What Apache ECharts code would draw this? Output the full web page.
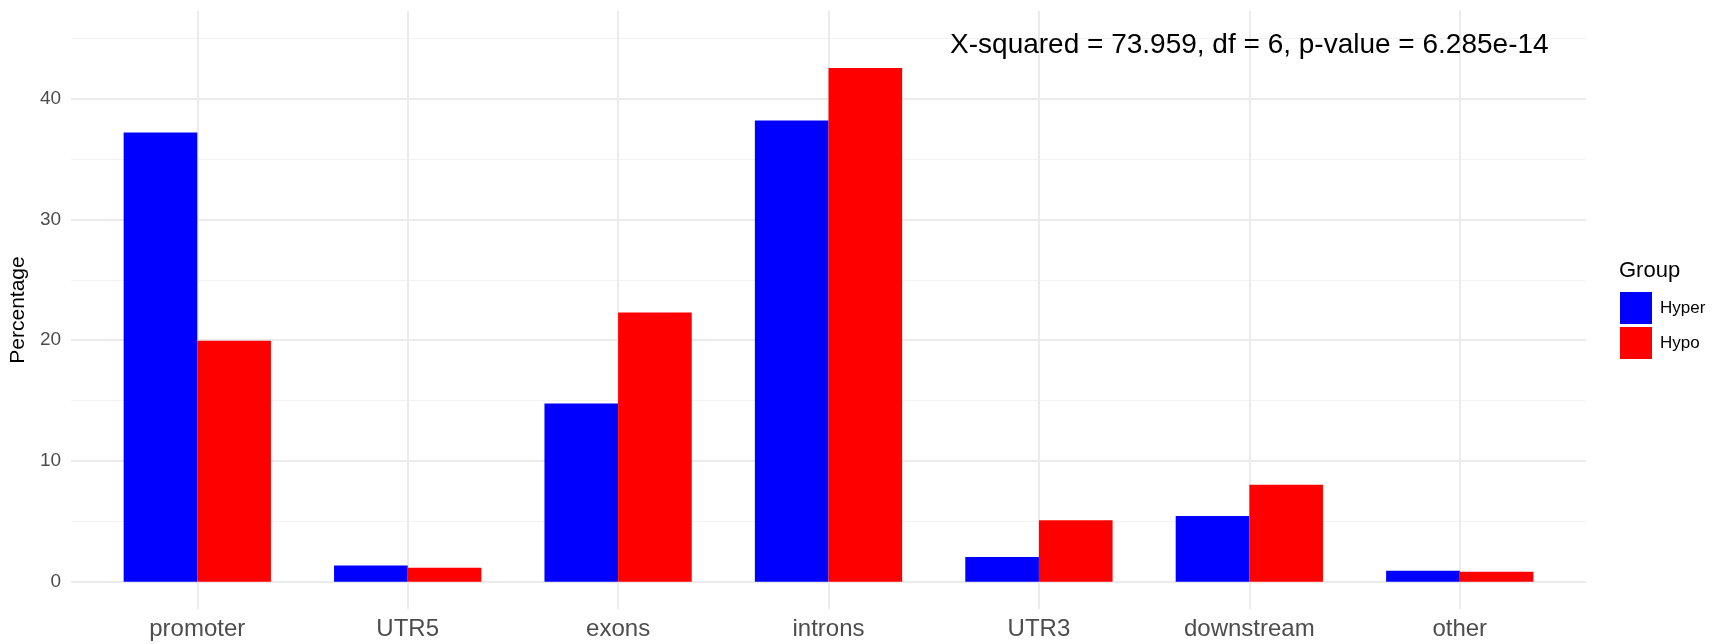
<!DOCTYPE html>
<html>
<head>
<meta charset="utf-8">
<title>Genomic feature distribution</title>
<script src="https://cdn.jsdelivr.net/npm/echarts@6/dist/echarts.min.js"></script>
<style>
  html, body { margin: 0; padding: 0; background: #ffffff; }
  #chart { width: 1716px; height: 644px; }
</style>
</head>
<body>
<div id="chart"></div>
<script>
// Genomic features (x categories)
const categories = ['promoter', 'UTR5', 'exons', 'introns', 'UTR3', 'downstream', 'other'];
// Percentage of regions per feature for each group
const hyperValues = [37.2, 1.36, 14.76, 38.19, 2.06, 5.44, 0.91];
const hypoValues = [19.95, 1.17, 22.29, 42.53, 5.10, 8.03, 0.83];
// Group names and fill colours
const groupNames = ['Hyper', 'Hypo'];
const groupColors = ['#0000ff', '#ff0000'];
// Y axis labelled ticks and minor gridlines
const yTicks = [0, 10, 20, 30, 40];
const yMinor = [5, 15, 25, 35, 45];
// Chi-squared test result shown in the panel
const testText = 'X-squared = 73.959, df = 6, p-value = 6.285e-14';
const testPos = [6, 45];

const FONT = '"Liberation Sans", Arial, Helvetica, sans-serif';
const xPositions = categories.map((c, i) => i + 1);

// Panel gridlines: major at labelled ticks and category centres, minor halfway
const major = { type: 'solid', width: 2, color: '#ebebeb' };
const minor = { type: 'solid', width: 1, color: '#f2f2f2' };
const gridLines = [];
yTicks.forEach(v => gridLines.push({ yAxis: v, lineStyle: major }));
yMinor.forEach(v => gridLines.push({ yAxis: v, lineStyle: minor }));
xPositions.forEach(v => gridLines.push({ xAxis: v, lineStyle: major }));

const chart = echarts.init(document.getElementById('chart'), null, { renderer: 'canvas' });

chart.setOption({
  animation: false,
  backgroundColor: '#ffffff',
  textStyle: { fontFamily: FONT },
  title: {
    text: 'Group',
    left: 1619,
    top: 260,
    padding: 0,
    textStyle: { fontFamily: FONT, fontSize: 22, fontWeight: 'normal', color: '#000000' }
  },
  legend: {
    data: groupNames,
    orient: 'vertical',
    left: 1620,
    top: 292,
    padding: 0,
    itemWidth: 32,
    itemHeight: 32,
    itemGap: 3,
    icon: 'rect',
    selectedMode: false,
    textStyle: { fontFamily: FONT, fontSize: 17, color: '#000000', padding: [0, 0, 0, 3] }
  },
  grid: {
    left: 70,
    right: 130,
    top: 11,
    bottom: 35,
    containLabel: false
  },
  xAxis: {
    type: 'value',
    min: 0.4,
    max: 7.6,
    splitLine: { show: false },
    axisLine: { show: false },
    axisTick: { show: false },
    axisLabel: {
      customValues: xPositions,
      formatter: v => categories[Math.round(v) - 1] || '',
      fontFamily: FONT,
      fontSize: 24,
      color: '#4d4d4d',
      margin: 8
    }
  },
  yAxis: {
    type: 'value',
    min: -2.25,
    max: 47.25,
    name: 'Percentage',
    nameLocation: 'middle',
    nameRotate: 90,
    nameGap: 32,
    nameTextStyle: { fontFamily: FONT, fontSize: 21, color: '#000000' },
    splitLine: { show: false },
    axisLine: { show: false },
    axisTick: { show: false },
    axisLabel: {
      customValues: yTicks,
      fontFamily: FONT,
      fontSize: 19,
      color: '#4d4d4d',
      margin: 10
    }
  },
  series: [
    {
      name: 'grid',
      type: 'line',
      data: [],
      z: 1,
      silent: true,
      markLine: {
        silent: true,
        z: 0,
        symbol: ['none', 'none'],
        label: { show: false },
        animation: false,
        data: gridLines
      },
      markPoint: {
        silent: true,
        z: 5,
        symbol: 'rect',
        symbolSize: 0,
        label: {
          show: true,
          position: 'inside',
          offset: [0, 7],
          formatter: testText,
          fontFamily: FONT,
          fontSize: 28,
          color: '#000000'
        },
        data: [{ coord: testPos }]
      }
    },
    {
      name: groupNames[0],
      type: 'bar',
      z: 2,
      barWidth: '35%',
      barGap: '0%',
      itemStyle: { color: groupColors[0] },
      data: hyperValues.map((v, i) => [xPositions[i], v])
    },
    {
      name: groupNames[1],
      type: 'bar',
      z: 2,
      barWidth: '35%',
      barGap: '0%',
      itemStyle: { color: groupColors[1] },
      data: hypoValues.map((v, i) => [xPositions[i], v])
    }
  ]
});
</script>
</body>
</html>
